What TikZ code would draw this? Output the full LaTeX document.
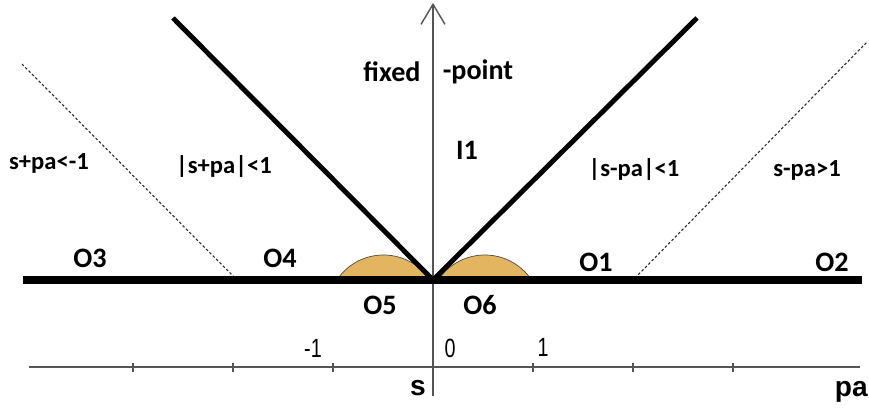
\documentclass[tikz,border=0pt]{standalone}
\usepackage{fontspec}
\setmainfont{Carlito}
\newfontfamily\tickfont[FakeStretch=0.75]{Liberation Sans}
\newfontfamily\axfont{Liberation Sans}
\usepackage{tikz}
\usetikzlibrary{arrows.meta,calc,positioning}
\usepackage{xcolor}
\definecolor{capfill}{RGB}{228,181,96}
\definecolor{axisgray}{RGB}{85,85,85}

\tikzset{
  zone/.style={font=\bfseries\fontsize{16}{18}\selectfont,inner sep=0pt},
  cond/.style={font=\bfseries\fontsize{14}{16}\selectfont,inner sep=0pt},
  ticklab/.style={font=\tickfont\fontsize{15}{17}\selectfont,inner sep=0pt},
  axlab/.style={font=\axfont\bfseries\fontsize{16}{18}\selectfont,inner sep=0pt},
  axisline/.style={draw=axisgray,line width=0.8pt},
  boundary/.style={line width=2.8pt},
  thinsplit/.style={line width=0.6pt,dash pattern=on 1.5pt off 1.2pt,draw=black!85}
}

\begin{document}
\begin{tikzpicture}[x=2cm,y=2cm]
\useasboundingbox (-4.33,-1.30) rectangle (4.36,2.80);
\coordinate (O) at (0,0);
% stable caps
\fill[capfill,draw=black!70,line width=0.4pt] (-0.029,0) arc[start angle=33.6,end angle=146.4,radius=0.56] -- cycle;
\fill[capfill,draw=black!70,line width=0.4pt] (0.985,0) arc[start angle=33.6,end angle=146.4,radius=0.56] -- cycle;
% axes
\draw[axisline,-{Straight Barb[length=4mm,width=4.8mm]}] (0,-1.16) -- (0,2.77);
\draw[axisline] (-4.04,-0.87) -- (4.27,-0.87);
\foreach \t in {-3,-2,-1,1,2,3}
  \draw[axisline] (\t,-0.83) -- (\t,-0.92);
\node[ticklab] (m1) at (-1.20,-0.68) {-1};
\node[ticklab] (z0) at (0.17,-0.68) {0};
\node[ticklab] (p1) at (1.10,-0.67) {1};
\node[axlab] (s) at (-0.15,-1.08) {s};
\node[axlab,anchor=east] (pa) at (4.35,-1.12) {pa};
% region borders
\draw[thinsplit] (-4.11,2.16) -- (-1.98,0.02);
\draw[thinsplit] (2.02,0.02) -- (4.34,2.38);
\draw[boundary] (O) -- (-2.60,2.62);
\draw[boundary] (O) -- (2.64,2.62);
\draw[line width=4.5pt] (-4.10,0) -- (4.29,0);
% labels
\node[zone] (fx) at (-0.41,2.08) {fixed};
\node[zone] (pt) at (0.45,2.08) {-point};
\node[zone] (I1) at (0.34,1.30) {I1};
\node[cond] (c1) at (2.01,1.10) {|s-pa|<1};
\node[cond] (c2) at (3.74,1.10) {s-pa>1};
\node[cond] (c3) at (-2.09,1.13) {|s+pa|<1};
\node[cond] (c4) at (-3.84,1.17) {s+pa<-1};
\node[zone] (O3) at (-3.43,0.22) {O3};
\node[zone] (O4) at (-1.53,0.22) {O4};
\node[zone] (O1) at (1.63,0.18) {O1};
\node[zone] (O2) at (3.99,0.18) {O2};
\node[zone] (O5) at (-0.53,-0.25) {O5};
\node[zone] (O6) at (0.47,-0.25) {O6};
\end{tikzpicture}
\end{document}
